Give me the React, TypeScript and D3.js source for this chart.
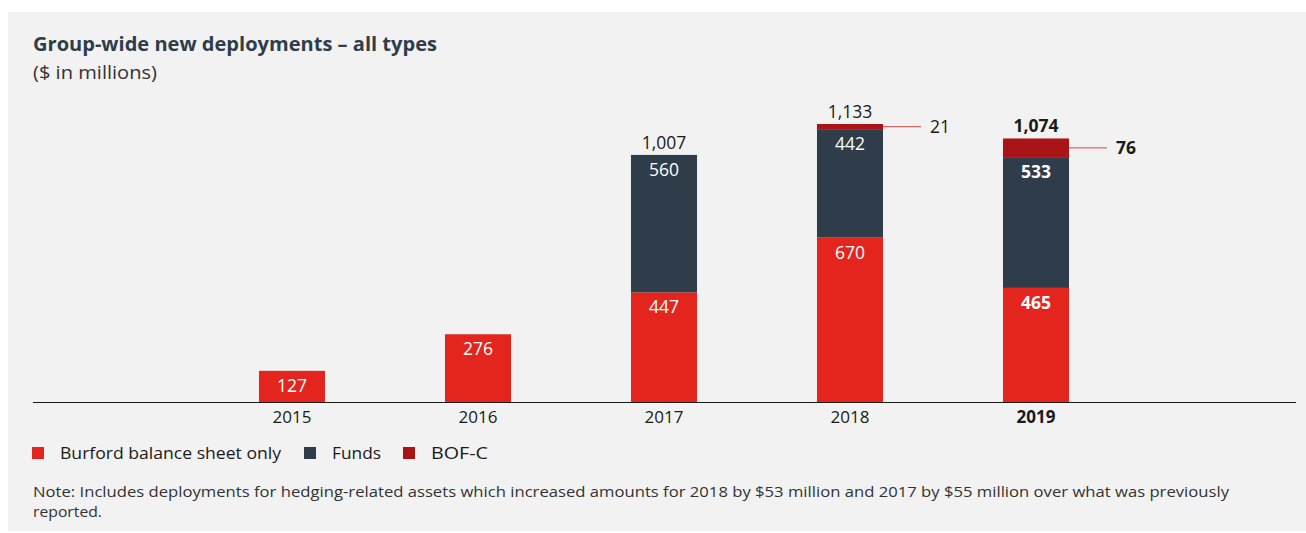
import React from "react";
import * as d3 from "d3";

const years = ["2015", "2016", "2017", "2018", "2019"];
const balanceSheet = [127, 276, 447, 670, 465];
const funds = [0, 0, 560, 442, 533];
const bofc = [0, 0, 0, 21, 76];
const totals = [null, null, "1,007", "1,133", "1,074"];
const seriesNames = ["Burford balance sheet only", "Funds", "BOF-C"];
const colors = ["#e3251e", "#2f3d4a", "#ab1416"];

const W = 1306;
const H = 533;
const FONT = "'Open Sans', Lato, sans-serif";

export default function App() {
  const x = d3
    .scaleBand<string>()
    .domain(years)
    .range([199, 1129])
    .paddingInner(0.645)
    .paddingOuter(0.3225);
  const y = d3.scaleLinear().domain([0, 1133]).range([402, 124]);

  const rows = years.map((yr, i) => ({
    year: yr,
    b: balanceSheet[i],
    f: funds[i],
    c: bofc[i],
  }));
  const stack = d3.stack<any>().keys(["b", "f", "c"])(rows);

  const legendSquareX = [32, 304, 403];
  const legendTextX = [60, 332, 431];
  const legendTextLen = [221, 49, 57];

  return (
    <svg
      width={W}
      height={H}
      style={{ position: "absolute", left: 0, top: 0 }}
      fontFamily={FONT}
    >
      <rect x={0} y={0} width={W} height={H} fill="#ffffff" />
      <rect x={8} y={12} width={W - 8} height={519} fill="#f2f2f2" />
      <text x={33} y={51} fontSize={19.5} fontWeight={700} fill="#2f3d4a" textLength={404} lengthAdjust="spacingAndGlyphs">
        Group-wide new deployments – all types
      </text>
      <text x={33} y={79} fontSize={18} fill="#333" textLength={124} lengthAdjust="spacingAndGlyphs">
        ($ in millions)
      </text>

      {stack.map((layer, li) =>
        layer.map((d, i) => {
          const v = d[1] - d[0];
          if (v <= 0) return null;
          const x0 = x(years[i])!;
          const top = y(d[1]);
          const bot = y(d[0]);
          const bold = years[i] === "2019";
          return (
            <g key={`${li}-${i}`}>
              <rect x={x0} y={top} width={x.bandwidth()} height={bot - top} fill={colors[li]} />
              {li < 2 && (
                <text
                  x={x0 + x.bandwidth() / 2}
                  y={top + 21}
                  textAnchor="middle"
                  fontSize={17.5}
                  fontWeight={bold ? 700 : 400}
                  fill="#ffffff"
                >
                  {v}
                </text>
              )}
              {li === 2 && (
                <g>
                  <line
                    x1={x0 + x.bandwidth()}
                    x2={x0 + x.bandwidth() + 38}
                    y1={(top + bot) / 2}
                    y2={(top + bot) / 2}
                    stroke="#d9676a"
                    strokeWidth={1.2}
                  />
                  <text
                    x={x0 + x.bandwidth() + 47}
                    y={(top + bot) / 2 + 6}
                    fontSize={17.5}
                    fontWeight={bold ? 700 : 400}
                    fill="#1a1a1a"
                  >
                    {v}
                  </text>
                </g>
              )}
            </g>
          );
        })
      )}

      {years.map((yr, i) =>
        totals[i] ? (
          <text
            key={"t" + yr}
            x={x(yr)! + x.bandwidth() / 2}
            y={y(balanceSheet[i] + funds[i] + bofc[i]) - 6}
            textAnchor="middle"
            fontSize={17.5}
            fontWeight={yr === "2019" ? 700 : 400}
            fill="#1a1a1a"
          >
            {totals[i]}
          </text>
        ) : null
      )}

      <line x1={33} x2={1296} y1={y(0) + 0.5} y2={y(0) + 0.5} stroke="#1a1a1a" strokeWidth={1.2} />
      {years.map((yr) => (
        <text
          key={"a" + yr}
          x={x(yr)! + x.bandwidth() / 2}
          y={423}
          textAnchor="middle"
          fontSize={17}
          fontWeight={yr === "2019" ? 700 : 400}
          fill="#1a1a1a"
        >
          {yr}
        </text>
      ))}

      {seriesNames.map((n, i) => (
        <g key={n}>
          <rect x={legendSquareX[i]} y={447} width={12} height={12} fill={colors[i]} />
          <text
            x={legendTextX[i]}
            y={459}
            fontSize={17}
            fill="#1a1a1a"
            textLength={legendTextLen[i]}
            lengthAdjust="spacingAndGlyphs"
          >
            {n}
          </text>
        </g>
      ))}

      <text x={33} y={497} fontSize={15} fill="#333" textLength={1196} lengthAdjust="spacingAndGlyphs">
        Note: Includes deployments for hedging-related assets which increased amounts for 2018 by $53 million and 2017 by $55 million over what was previously
      </text>
      <text x={33} y={517} fontSize={15} fill="#333" textLength={69} lengthAdjust="spacingAndGlyphs">
        reported.
      </text>
    </svg>
  );
}
